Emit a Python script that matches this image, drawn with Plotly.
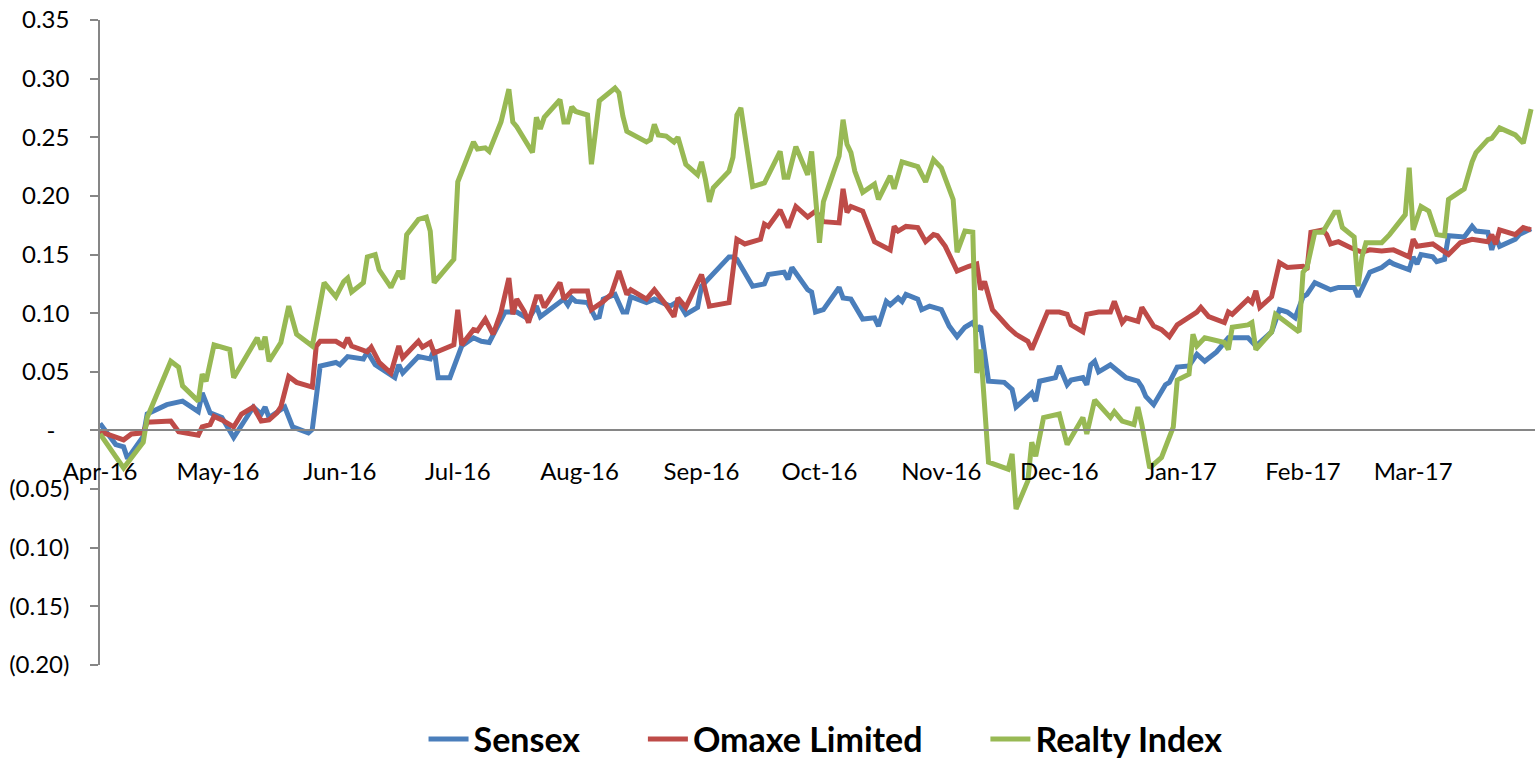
import plotly.graph_objects as go

sensex_dates = [
    "2016-04-01", "2016-04-05", "2016-04-07", "2016-04-08", "2016-04-12", "2016-04-13", "2016-04-18", "2016-04-22",
    "2016-04-26", "2016-04-27", "2016-04-29", "2016-05-02", "2016-05-05", "2016-05-06", "2016-05-10", "2016-05-12",
    "2016-05-13", "2016-05-14", "2016-05-18", "2016-05-20", "2016-05-24", "2016-05-25", "2016-05-27", "2016-05-31",
    "2016-06-01", "2016-06-03", "2016-06-07", "2016-06-08", "2016-06-10", "2016-06-15", "2016-06-16", "2016-06-17",
    "2016-06-21", "2016-06-24", "2016-06-25", "2016-06-26", "2016-06-29", "2016-07-02", "2016-07-05", "2016-07-07",
    "2016-07-09", "2016-07-13", "2016-07-16", "2016-07-19", "2016-07-21", "2016-07-22", "2016-07-28", "2016-07-29",
    "2016-07-30", "2016-07-31", "2016-08-03", "2016-08-05", "2016-08-06", "2016-08-07", "2016-08-10", "2016-08-12",
    "2016-08-13", "2016-08-14", "2016-08-18", "2016-08-20", "2016-08-24", "2016-08-26", "2016-08-28", "2016-08-31",
    "2016-09-01", "2016-09-08", "2016-09-09", "2016-09-10", "2016-09-14", "2016-09-17", "2016-09-18", "2016-09-22",
    "2016-09-23", "2016-09-24", "2016-09-28", "2016-09-29", "2016-09-30", "2016-10-02", "2016-10-06", "2016-10-07",
    "2016-10-09", "2016-10-12", "2016-10-15", "2016-10-16", "2016-10-18", "2016-10-19", "2016-10-21", "2016-10-22",
    "2016-10-23", "2016-10-26", "2016-10-27", "2016-10-29", "2016-11-01", "2016-11-03", "2016-11-05", "2016-11-07",
    "2016-11-09", "2016-11-10", "2016-11-11", "2016-11-13", "2016-11-17", "2016-11-19", "2016-11-20", "2016-11-24",
    "2016-11-25", "2016-11-26", "2016-11-30", "2016-12-01", "2016-12-03", "2016-12-04", "2016-12-07", "2016-12-08",
    "2016-12-09", "2016-12-10", "2016-12-11", "2016-12-14", "2016-12-18", "2016-12-21", "2016-12-22", "2016-12-23",
    "2016-12-25", "2016-12-28", "2016-12-29", "2016-12-31", "2017-01-03", "2017-01-05", "2017-01-07", "2017-01-10",
    "2017-01-13", "2017-01-18", "2017-01-20", "2017-01-24", "2017-01-26", "2017-01-28", "2017-01-30", "2017-02-01",
    "2017-02-02", "2017-02-04", "2017-02-08", "2017-02-10", "2017-02-14", "2017-02-15", "2017-02-18", "2017-02-21",
    "2017-02-23", "2017-02-24", "2017-02-28", "2017-03-01", "2017-03-02", "2017-03-03", "2017-03-06", "2017-03-07",
    "2017-03-09", "2017-03-10", "2017-03-14", "2017-03-16", "2017-03-17", "2017-03-20", "2017-03-21", "2017-03-22",
    "2017-03-23", "2017-03-27", "2017-03-28", "2017-03-31",
]
sensex_values = [
    0.006, -0.012, -0.014, -0.024, -0.005, 0.014, 0.022, 0.025,
    0.016, 0.032, 0.015, 0.011, -0.006, -0.001, 0.020, 0.014,
    0.020, 0.011, 0.020, 0.003, -0.002, 0.001, 0.055, 0.058,
    0.056, 0.063, 0.061, 0.067, 0.056, 0.045, 0.056, 0.049,
    0.063, 0.061, 0.069, 0.045, 0.045, 0.072, 0.079, 0.076,
    0.075, 0.101, 0.101, 0.095, 0.106, 0.097, 0.112, 0.107,
    0.113, 0.110, 0.109, 0.096, 0.097, 0.112, 0.116, 0.101,
    0.101, 0.114, 0.109, 0.112, 0.106, 0.110, 0.099, 0.105,
    0.123, 0.148, 0.148, 0.146, 0.123, 0.125, 0.133, 0.135,
    0.129, 0.139, 0.120, 0.118, 0.101, 0.103, 0.122, 0.113,
    0.112, 0.095, 0.096, 0.089, 0.110, 0.107, 0.113, 0.110,
    0.116, 0.112, 0.103, 0.106, 0.103, 0.089, 0.080, 0.088,
    0.092, 0.086, 0.089, 0.042, 0.041, 0.035, 0.020, 0.032,
    0.025, 0.042, 0.045, 0.055, 0.039, 0.043, 0.045, 0.039,
    0.056, 0.059, 0.050, 0.056, 0.045, 0.042, 0.037, 0.029,
    0.022, 0.039, 0.041, 0.054, 0.055, 0.065, 0.059, 0.067,
    0.079, 0.079, 0.072, 0.084, 0.103, 0.101, 0.096, 0.114,
    0.116, 0.126, 0.120, 0.122, 0.122, 0.114, 0.135, 0.139,
    0.144, 0.142, 0.137, 0.148, 0.142, 0.150, 0.148, 0.144,
    0.146, 0.166, 0.165, 0.174, 0.170, 0.169, 0.154, 0.165,
    0.157, 0.163, 0.167, 0.172,
]

omaxe_dates = [
    "2016-04-01", "2016-04-07", "2016-04-09", "2016-04-12", "2016-04-13", "2016-04-19", "2016-04-21", "2016-04-26",
    "2016-04-27", "2016-04-29", "2016-04-30", "2016-05-02", "2016-05-05", "2016-05-07", "2016-05-10", "2016-05-12",
    "2016-05-14", "2016-05-16", "2016-05-17", "2016-05-19", "2016-05-21", "2016-05-25", "2016-05-26", "2016-05-27",
    "2016-05-31", "2016-06-02", "2016-06-03", "2016-06-04", "2016-06-08", "2016-06-09", "2016-06-11", "2016-06-14",
    "2016-06-16", "2016-06-17", "2016-06-21", "2016-06-22", "2016-06-24", "2016-06-25", "2016-06-30", "2016-07-01",
    "2016-07-02", "2016-07-05", "2016-07-06", "2016-07-08", "2016-07-10", "2016-07-12", "2016-07-14", "2016-07-15",
    "2016-07-16", "2016-07-18", "2016-07-19", "2016-07-21", "2016-07-22", "2016-07-23", "2016-07-27", "2016-07-28",
    "2016-07-30", "2016-08-03", "2016-08-04", "2016-08-07", "2016-08-09", "2016-08-11", "2016-08-13", "2016-08-14",
    "2016-08-18", "2016-08-20", "2016-08-23", "2016-08-25", "2016-08-26", "2016-08-28", "2016-09-01", "2016-09-03",
    "2016-09-08", "2016-09-10", "2016-09-12", "2016-09-16", "2016-09-17", "2016-09-18", "2016-09-21", "2016-09-23",
    "2016-09-25", "2016-09-28", "2016-09-30", "2016-10-02", "2016-10-06", "2016-10-07", "2016-10-08", "2016-10-09",
    "2016-10-12", "2016-10-15", "2016-10-19", "2016-10-20", "2016-10-21", "2016-10-23", "2016-10-26", "2016-10-28",
    "2016-10-30", "2016-10-31", "2016-11-02", "2016-11-05", "2016-11-08", "2016-11-10", "2016-11-11", "2016-11-12",
    "2016-11-14", "2016-11-16", "2016-11-18", "2016-11-20", "2016-11-23", "2016-11-24", "2016-11-26", "2016-11-28",
    "2016-12-01", "2016-12-03", "2016-12-04", "2016-12-07", "2016-12-08", "2016-12-11", "2016-12-14", "2016-12-15",
    "2016-12-17", "2016-12-18", "2016-12-21", "2016-12-22", "2016-12-25", "2016-12-27", "2016-12-29", "2016-12-31",
    "2017-01-05", "2017-01-06", "2017-01-08", "2017-01-11", "2017-01-12", "2017-01-13", "2017-01-14", "2017-01-18",
    "2017-01-19", "2017-01-20", "2017-01-21", "2017-01-24", "2017-01-26", "2017-01-28", "2017-02-01", "2017-02-02",
    "2017-02-03", "2017-02-06", "2017-02-07", "2017-02-08", "2017-02-10", "2017-02-13", "2017-02-16", "2017-02-18",
    "2017-02-21", "2017-02-24", "2017-02-28", "2017-03-01", "2017-03-02", "2017-03-06", "2017-03-08", "2017-03-10",
    "2017-03-13", "2017-03-16", "2017-03-20", "2017-03-21", "2017-03-22", "2017-03-23", "2017-03-27", "2017-03-29",
    "2017-03-31",
]
omaxe_values = [
    -0.001, -0.008, -0.003, -0.002, 0.007, 0.008, -0.001, -0.004,
    0.003, 0.005, 0.012, 0.009, 0.003, 0.014, 0.020, 0.008,
    0.009, 0.015, 0.020, 0.046, 0.041, 0.037, 0.072, 0.076,
    0.076, 0.072, 0.079, 0.072, 0.067, 0.071, 0.058, 0.049,
    0.072, 0.062, 0.076, 0.071, 0.075, 0.066, 0.073, 0.103,
    0.073, 0.086, 0.085, 0.095, 0.082, 0.101, 0.130, 0.099,
    0.112, 0.101, 0.092, 0.114, 0.114, 0.105, 0.126, 0.112,
    0.119, 0.119, 0.103, 0.110, 0.116, 0.136, 0.116, 0.120,
    0.112, 0.120, 0.107, 0.097, 0.113, 0.105, 0.133, 0.106,
    0.109, 0.163, 0.159, 0.163, 0.176, 0.174, 0.188, 0.173,
    0.191, 0.182, 0.187, 0.178, 0.177, 0.206, 0.186, 0.191,
    0.187, 0.161, 0.154, 0.174, 0.170, 0.174, 0.173, 0.161,
    0.167, 0.166, 0.157, 0.136, 0.140, 0.142, 0.120, 0.127,
    0.103, 0.095, 0.088, 0.082, 0.076, 0.069, 0.085, 0.101,
    0.101, 0.099, 0.090, 0.084, 0.099, 0.101, 0.101, 0.110,
    0.092, 0.096, 0.093, 0.105, 0.089, 0.086, 0.080, 0.090,
    0.101, 0.105, 0.097, 0.093, 0.092, 0.101, 0.099, 0.112,
    0.109, 0.119, 0.105, 0.114, 0.143, 0.139, 0.140, 0.137,
    0.169, 0.171, 0.167, 0.159, 0.161, 0.156, 0.152, 0.154,
    0.153, 0.154, 0.148, 0.163, 0.157, 0.159, 0.154, 0.150,
    0.160, 0.163, 0.161, 0.167, 0.159, 0.171, 0.167, 0.173,
    0.171,
]

realty_dates = [
    "2016-04-01", "2016-04-07", "2016-04-12", "2016-04-13", "2016-04-19", "2016-04-21", "2016-04-22", "2016-04-26",
    "2016-04-27", "2016-04-28", "2016-04-30", "2016-05-04", "2016-05-05", "2016-05-07", "2016-05-11", "2016-05-12",
    "2016-05-13", "2016-05-14", "2016-05-17", "2016-05-19", "2016-05-21", "2016-05-25", "2016-05-28", "2016-05-31",
    "2016-06-02", "2016-06-03", "2016-06-04", "2016-06-07", "2016-06-08", "2016-06-10", "2016-06-11", "2016-06-14",
    "2016-06-16", "2016-06-17", "2016-06-18", "2016-06-21", "2016-06-23", "2016-06-24", "2016-06-25", "2016-06-30",
    "2016-07-01", "2016-07-05", "2016-07-06", "2016-07-08", "2016-07-09", "2016-07-12", "2016-07-14", "2016-07-15",
    "2016-07-16", "2016-07-20", "2016-07-21", "2016-07-22", "2016-07-23", "2016-07-27", "2016-07-28", "2016-07-29",
    "2016-07-30", "2016-07-31", "2016-08-03", "2016-08-04", "2016-08-06", "2016-08-10", "2016-08-11", "2016-08-12",
    "2016-08-13", "2016-08-18", "2016-08-19", "2016-08-20", "2016-08-21", "2016-08-23", "2016-08-25", "2016-08-26",
    "2016-08-27", "2016-08-28", "2016-08-31", "2016-09-01", "2016-09-02", "2016-09-03", "2016-09-04", "2016-09-08",
    "2016-09-09", "2016-09-10", "2016-09-11", "2016-09-14", "2016-09-17", "2016-09-21", "2016-09-22", "2016-09-23",
    "2016-09-25", "2016-09-28", "2016-09-29", "2016-10-01", "2016-10-02", "2016-10-06", "2016-10-07", "2016-10-08",
    "2016-10-09", "2016-10-10", "2016-10-12", "2016-10-15", "2016-10-16", "2016-10-19", "2016-10-20", "2016-10-22",
    "2016-10-26", "2016-10-27", "2016-10-28", "2016-10-30", "2016-11-01", "2016-11-04", "2016-11-05", "2016-11-07",
    "2016-11-09", "2016-11-10", "2016-11-11", "2016-11-13", "2016-11-16", "2016-11-18", "2016-11-19", "2016-11-20",
    "2016-11-23", "2016-11-24", "2016-11-25", "2016-11-27", "2016-12-01", "2016-12-03", "2016-12-07", "2016-12-08",
    "2016-12-10", "2016-12-14", "2016-12-15", "2016-12-17", "2016-12-20", "2016-12-21", "2016-12-22", "2016-12-24",
    "2016-12-27", "2016-12-30", "2016-12-31", "2017-01-03", "2017-01-04", "2017-01-05", "2017-01-07", "2017-01-12",
    "2017-01-13", "2017-01-14", "2017-01-18", "2017-01-19", "2017-01-20", "2017-01-24", "2017-01-25", "2017-01-28",
    "2017-01-31", "2017-02-01", "2017-02-02", "2017-02-04", "2017-02-06", "2017-02-09", "2017-02-10", "2017-02-11",
    "2017-02-14", "2017-02-15", "2017-02-16", "2017-02-17", "2017-02-21", "2017-02-23", "2017-02-27", "2017-02-28",
    "2017-03-01", "2017-03-03", "2017-03-05", "2017-03-07", "2017-03-09", "2017-03-10", "2017-03-14", "2017-03-16",
    "2017-03-17", "2017-03-20", "2017-03-21", "2017-03-23", "2017-03-27", "2017-03-29", "2017-03-31",
]
realty_values = [
    -0.003, -0.032, -0.010, 0.011, 0.059, 0.054, 0.038, 0.025,
    0.048, 0.042, 0.073, 0.069, 0.045, 0.056, 0.079, 0.069,
    0.080, 0.059, 0.075, 0.106, 0.082, 0.072, 0.126, 0.114,
    0.127, 0.130, 0.118, 0.126, 0.148, 0.150, 0.137, 0.122,
    0.136, 0.129, 0.167, 0.180, 0.182, 0.170, 0.126, 0.146,
    0.212, 0.246, 0.240, 0.241, 0.238, 0.263, 0.291, 0.263,
    0.259, 0.237, 0.267, 0.257, 0.267, 0.282, 0.263, 0.263,
    0.276, 0.272, 0.269, 0.227, 0.281, 0.292, 0.288, 0.268,
    0.255, 0.246, 0.248, 0.261, 0.252, 0.251, 0.246, 0.250,
    0.240, 0.227, 0.218, 0.229, 0.214, 0.195, 0.207, 0.221,
    0.233, 0.269, 0.275, 0.208, 0.211, 0.238, 0.216, 0.216,
    0.242, 0.218, 0.238, 0.160, 0.195, 0.234, 0.265, 0.244,
    0.237, 0.221, 0.203, 0.210, 0.197, 0.217, 0.206, 0.229,
    0.225, 0.218, 0.212, 0.231, 0.224, 0.197, 0.152, 0.170,
    0.169, 0.049, 0.069, -0.027, -0.031, -0.033, -0.020, -0.067,
    -0.043, -0.010, -0.022, 0.011, 0.014, -0.012, 0.011, -0.003,
    0.026, 0.011, 0.016, 0.008, 0.005, 0.020, 0.005, -0.032,
    -0.023, 0.003, 0.043, 0.048, 0.082, 0.072, 0.079, 0.075,
    0.069, 0.088, 0.090, 0.092, 0.069, 0.084, 0.099, 0.092,
    0.084, 0.135, 0.139, 0.169, 0.169, 0.186, 0.186, 0.173,
    0.165, 0.123, 0.148, 0.160, 0.160, 0.167, 0.184, 0.224,
    0.171, 0.191, 0.187, 0.167, 0.166, 0.197, 0.206, 0.229,
    0.237, 0.248, 0.249, 0.258, 0.252, 0.245, 0.274,
]

y_tick_values = [-0.20, -0.15, -0.10, -0.05, 0.0, 0.05, 0.10, 0.15, 0.20, 0.25, 0.30, 0.35]
y_tick_labels = ["(0.20)", "(0.15)", "(0.10)", "(0.05)", "-\u2007", "0.05", "0.10", "0.15", "0.20", "0.25", "0.30", "0.35"]

series_names = ["Sensex", "Omaxe Limited", "Realty Index"]
series_colors = ["#4A7EBB", "#BE4B48", "#98B954"]
legend_pad = ["\u00a0" * 7, "\u00a0" * 7, ""]

fig = go.Figure()
for name, dates, values, color, pad in zip(series_names,
                                           [sensex_dates, omaxe_dates, realty_dates],
                                           [sensex_values, omaxe_values, realty_values],
                                           series_colors, legend_pad):
    fig.add_trace(go.Scatter(x=dates, y=values, mode="lines", name=name + pad,
                             line=dict(color=color, width=5)))

axis_grey = "#868686"
y_min, y_max = -0.20, 0.35
zero_pos = (0 - y_min) / (y_max - y_min)

fig.update_layout(
    width=1535, height=763,
    margin=dict(l=100, r=0, t=20, b=98, autoexpand=False),
    paper_bgcolor="white", plot_bgcolor="white",
    font=dict(family="Lato, Arial, sans-serif", color="black", size=24),
    showlegend=True,
    legend=dict(orientation="h", x=0.5056, xanchor="center",
                yref="container", y=0.031, yanchor="middle",
                font=dict(size=34, weight="bold", color="black"),
                itemwidth=40, tracegroupgap=0),
    xaxis=dict(type="date", range=["2016-04-01", "2017-04-01"],
               tick0="2016-04-01", dtick="M1", tickformat="%b-%y",
               showgrid=False, zeroline=False, showline=True, linecolor=axis_grey, linewidth=1.5,
               anchor="free", position=zero_pos, ticks="", ticklabelstandoff=20,
               tickfont=dict(size=24)),
    yaxis=dict(range=[y_min, y_max], tickvals=y_tick_values, ticktext=y_tick_labels,
               showgrid=False, zeroline=False, showline=True, linecolor=axis_grey, linewidth=1.5,
               ticks="outside", ticklen=8, tickcolor=axis_grey, tickwidth=1.5,
               ticklabelstandoff=16, tickfont=dict(size=24)),
)

fig.write_html("out.html", config={"displayModeBar": False},
               post_script="document.body.style.margin='0';")
